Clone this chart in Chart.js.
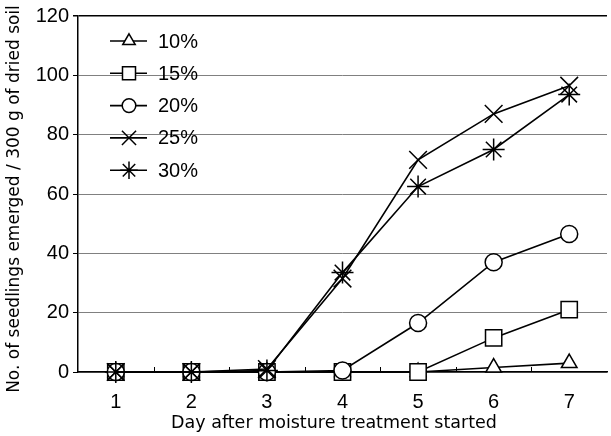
<!DOCTYPE html>
<html>
<head>
<meta charset="utf-8">
<script src="https://cdn.jsdelivr.net/npm/chart.js@4.4.0/dist/chart.umd.min.js"></script>
<style>
  html, body { margin: 0; padding: 0; background: #fff; overflow: hidden; }
  #chart { display: block; }
</style>
</head>
<body>
<canvas id="chart" width="611" height="436"></canvas>
<script>
// data
const days = ['1', '2', '3', '4', '5', '6', '7'];
const seriesNames = ['10%', '15%', '20%', '25%', '30%'];
const pct10 = [0, 0, 0, 0, 0, 1.5, 3];
const pct15 = [0, 0, 0, 0, 0, 11.5, 21];
const pct20 = [0, 0, 0, 0.5, 16.5, 37, 46.5];
const pct25 = [0, 0, 1, 31.5, 71.5, 87, 96.5];
const pct30 = [0, 0, 0.5, 33.5, 62.5, 75, 93.5];
const yTicks = [0, 20, 40, 60, 80, 100, 120];

const FONT = '"Liberation Sans Narrow", "Liberation Sans", Arial, sans-serif';
const TITLE_FONT = '"DejaVu Sans", sans-serif';
const X_TITLE = 'Day after moisture treatment started';
const Y_TITLE = 'No. of seedlings emerged / 300 g of dried soil';

const markerStyles = [
  { pointStyle: 'triangle', pointRadius: 9 },
  { pointStyle: 'rect', pointRadius: 11.5 },
  { pointStyle: 'circle', pointRadius: 8.5 },
  { pointStyle: 'crossRot', pointRadius: 12.5 },
  { pointStyle: 'star', pointRadius: 11 }
];

const allValues = [pct10, pct15, pct20, pct25, pct30];

const datasets = allValues.map((vals, i) => ({
  label: seriesNames[i],
  data: vals,
  borderColor: '#000',
  borderWidth: 1.6,
  pointBackgroundColor: '#fff',
  pointBorderColor: '#000',
  pointBorderWidth: 1.5,
  pointStyle: markerStyles[i].pointStyle,
  pointRadius: markerStyles[i].pointRadius,
  tension: 0,
  clip: false,
  order: 5 - i
}));

// legend drawn inside the plot, one column
const insideLegend = {
  id: 'insideLegend',
  afterDatasetsDraw(chart) {
    const ctx = chart.ctx;
    chart.data.datasets.forEach((ds, i) => {
      const y = 41 + i * 32.3;
      ctx.save();
      ctx.strokeStyle = '#000';
      ctx.lineWidth = 1.6;
      ctx.beginPath();
      ctx.moveTo(110, y);
      ctx.lineTo(147, y);
      ctx.stroke();
      ctx.fillStyle = '#fff';
      ctx.lineWidth = 1.5;
      Chart.helpers.drawPoint(ctx, {
        pointStyle: ds.pointStyle,
        radius: ds.pointRadius * 0.8,
        rotation: 0,
        borderWidth: 1.5
      }, 129, y);
      ctx.fillStyle = '#000';
      ctx.font = '20px ' + FONT;
      ctx.textBaseline = 'middle';
      ctx.textAlign = 'left';
      ctx.fillText(ds.label, 158, y + 1);
      ctx.restore();
    });
  }
};

// inward tick marks between the days, and the two axis titles
const axisExtras = {
  id: 'axisExtras',
  afterDraw(chart) {
    const x = chart.scales.x;
    const bottom = chart.chartArea.bottom;
    const ctx = chart.ctx;
    ctx.save();
    ctx.strokeStyle = '#000';
    ctx.lineWidth = 1;
    for (let i = 0; i < days.length - 1; i++) {
      const px = Math.round((x.getPixelForValue(i) + x.getPixelForValue(i + 1)) / 2) + 0.5;
      ctx.beginPath();
      ctx.moveTo(px, bottom);
      ctx.lineTo(px, bottom - 5);
      ctx.stroke();
    }
    ctx.fillStyle = '#000';
    ctx.font = '17.5px ' + TITLE_FONT;
    ctx.textAlign = 'center';
    ctx.textBaseline = 'middle';
    ctx.fillText(X_TITLE, 334, 423);
    ctx.translate(15, 199);
    ctx.rotate(-Math.PI / 2);
    ctx.font = '17px ' + TITLE_FONT;
    ctx.fillText(Y_TITLE, 0, 0);
    ctx.restore();
  }
};

new Chart(document.getElementById('chart'), {
  type: 'line',
  data: { labels: days, datasets: datasets },
  plugins: [insideLegend, axisExtras],
  options: {
    responsive: false,
    animation: false,
    devicePixelRatio: 1,
    layout: { autoPadding: false, padding: { top: 16, right: 4, left: 0, bottom: 0 } },
    plugins: {
      legend: { display: false },
      tooltip: { enabled: false }
    },
    scales: {
      x: {
        type: 'category',
        offset: true,
        grid: { display: false },
        border: { display: true, color: '#000', width: 1.5 },
        ticks: { color: '#000', font: { family: FONT, size: 20 }, padding: 10 },
        title: { display: false },
        afterFit(scale) {
          scale.height = 64;
        }
      },
      y: {
        min: 0,
        max: 120,
        afterBuildTicks(scale) { scale.ticks = yTicks.map(v => ({ value: v })); },
        grid: {
          color: ctx => (ctx.tick && ctx.tick.value === 120) ? '#000' : '#808080',
          lineWidth: ctx => (ctx.tick && ctx.tick.value === 120) ? 1.5 : 1,
          tickColor: '#000',
          tickLength: 5
        },
        border: { display: true, color: '#000', width: 1.5 },
        ticks: { color: '#000', font: { family: FONT, size: 20 }, padding: 4 },
        title: { display: false },
        afterFit(scale) { scale.width = 78; }
      }
    }
  }
});
</script>
</body>
</html>
